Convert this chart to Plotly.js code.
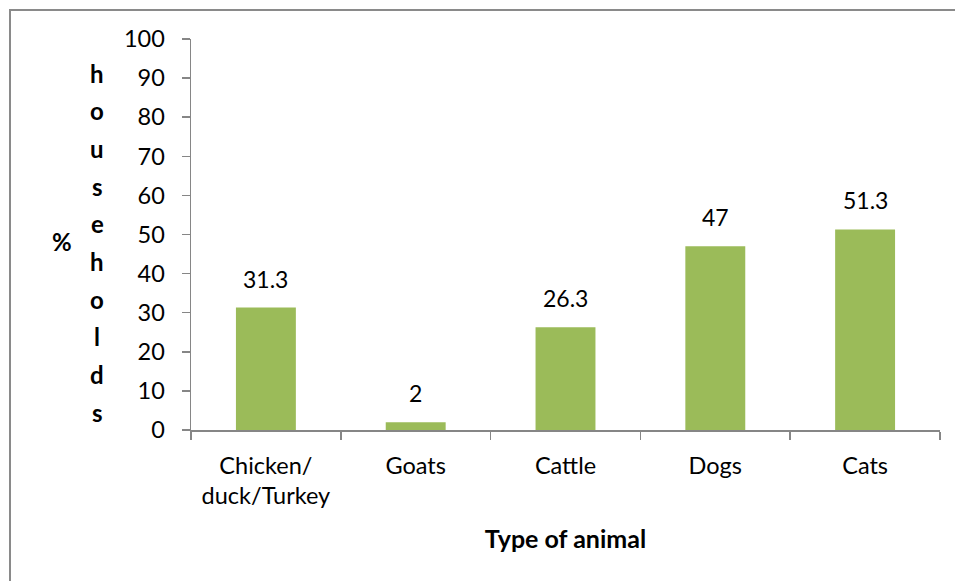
<!DOCTYPE html>
<html>
<head>
<meta charset="utf-8">
<script src="https://cdn.plot.ly/plotly-3.0.1.min.js"></script>
<style>
  html, body { margin: 0; padding: 0; background: #fff; }
  #chart { width: 955px; height: 581px; }
</style>
</head>
<body>
<div id="chart"></div>
<script>
// Share of households keeping each type of animal
const categories = ['Chicken/<br>duck/Turkey', 'Goats', 'Cattle', 'Dogs', 'Cats'];
const percentHouseholds = [31.3, 2, 26.3, 47, 51.3];
const yTickValues = [0, 10, 20, 30, 40, 50, 60, 70, 80, 90, 100];
const yTitleLetters = ['h', 'o', 'u', 's', 'e', 'h', 'o', 'l', 'd', 's'];

const W = 955, H = 581;
const M = { l: 191, r: 15, t: 39, b: 151 };
const plotW = W - M.l - M.r;
const plotH = H - M.t - M.b;
const px2x = (px) => (px - M.l) / plotW;
const px2y = (py) => (H - M.b - py) / plotH;

const FONT = 'Lato, "Open Sans", sans-serif';
const AXIS_GREY = '#868686';
const TICK_SIZE = 23.5;

const bars = {
  type: 'bar',
  x: categories,
  y: percentHouseholds,
  width: 0.4,
  marker: { color: '#9BBB59', line: { width: 0 } },
  hoverinfo: 'x+y'
};

// value labels above each bar
const valueLabels = categories.map((c, i) => ({
  x: c, y: percentHouseholds[i], xref: 'x', yref: 'y',
  text: String(percentHouseholds[i]),
  showarrow: false, xanchor: 'center', yanchor: 'bottom', yshift: 13,
  font: { family: FONT, size: 23, color: '#000' }
}));

// stacked vertical axis title letters, plus the "%" mark
const titleLetters = yTitleLetters.map((ch, i) => ({
  x: px2x(97), y: px2y(73 + i * 37.7), xref: 'paper', yref: 'paper',
  text: '<b>' + ch + '</b>', showarrow: false,
  xanchor: 'center', yanchor: 'middle',
  font: { family: FONT, size: 24, color: '#000' }
}));
const percentMark = {
  x: px2x(62), y: px2y(242), xref: 'paper', yref: 'paper',
  text: '<b>%</b>', showarrow: false, xanchor: 'center', yanchor: 'middle',
  font: { family: FONT, size: 24, color: '#000' }
};

const layout = {
  width: W, height: H,
  margin: M,
  paper_bgcolor: '#fff', plot_bgcolor: '#fff',
  showlegend: false,
  font: { family: FONT, size: TICK_SIZE, color: '#000' },
  xaxis: {
    type: 'category',
    showline: true, linecolor: AXIS_GREY, linewidth: 1.5,
    ticks: 'outside', ticklen: 8, tickcolor: AXIS_GREY, tickwidth: 1.5,
    tickson: 'boundaries',
    ticklabelstandoff: 14,
    showgrid: false, zeroline: false,
    tickfont: { family: FONT, size: TICK_SIZE, color: '#000' },
    title: { text: '<b>Type of animal</b>', font: { family: FONT, size: 25, color: '#000' }, standoff: 22 }
  },
  yaxis: {
    range: [0, 100],
    tickvals: yTickValues,
    showline: true, linecolor: AXIS_GREY, linewidth: 1.5,
    ticks: 'outside', ticklen: 8, tickcolor: AXIS_GREY, tickwidth: 1.5,
    ticklabelstandoff: 12,
    showgrid: false, zeroline: false,
    tickfont: { family: FONT, size: TICK_SIZE, color: '#000' }
  },
  annotations: valueLabels.concat(titleLetters, [percentMark]),
  shapes: [{
    type: 'rect', xref: 'paper', yref: 'paper',
    x0: px2x(10), x1: px2x(W + 20), y0: px2y(H + 20), y1: px2y(10),
    line: { color: '#8a8a8a', width: 2 }, fillcolor: 'rgba(0,0,0,0)', layer: 'above'
  }]
};

Plotly.newPlot('chart', [bars], layout, { displayModeBar: false, staticPlot: true });
</script>
</body>
</html>
